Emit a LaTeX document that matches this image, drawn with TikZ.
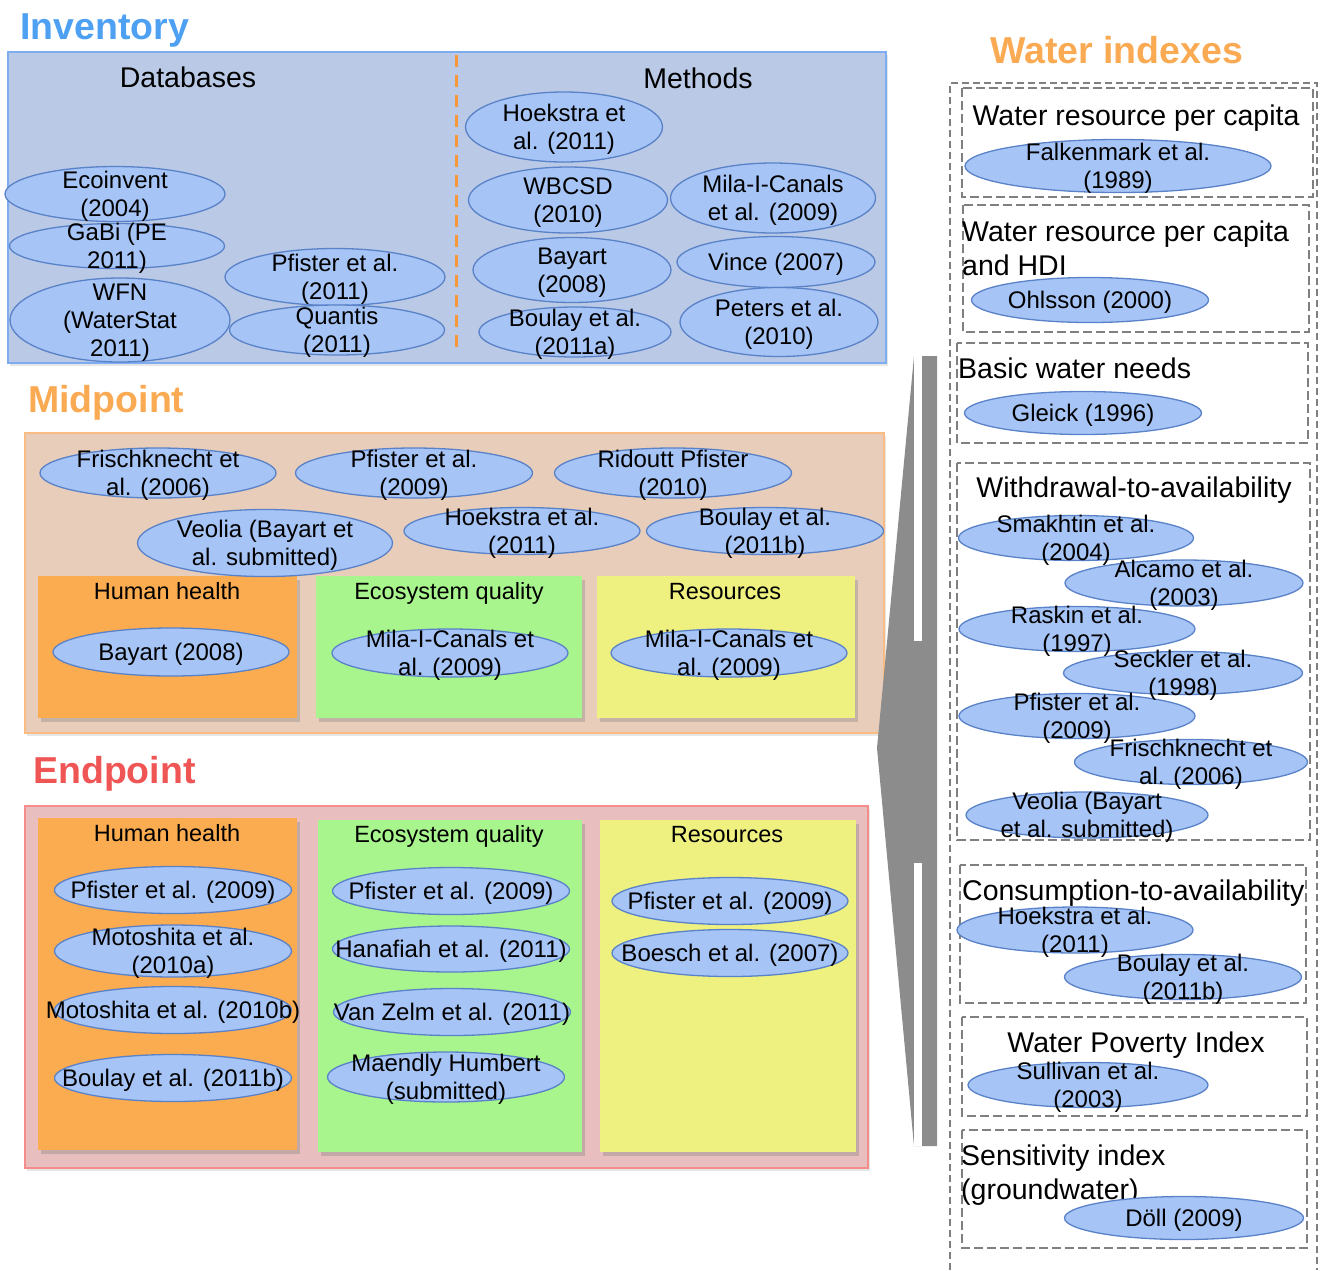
\documentclass[tikz,border=0pt]{standalone}
\usepackage{fontspec}
\setmainfont{Liberation Sans}
\usetikzlibrary{shapes.geometric,shadows}

\definecolor{invblue}{RGB}{77,160,242}
\definecolor{invfill}{RGB}{185,201,230}
\definecolor{invline}{RGB}{125,172,240}
\definecolor{midorange}{RGB}{250,170,82}
\definecolor{midfill}{RGB}{231,205,186}
\definecolor{midline}{RGB}{250,188,130}
\definecolor{endred}{RGB}{240,85,85}
\definecolor{endfill}{RGB}{232,190,190}
\definecolor{endline}{RGB}{245,140,140}
\definecolor{hhfill}{RGB}{251,171,80}
\definecolor{eqfill}{RGB}{168,245,142}
\definecolor{resfill}{RGB}{238,240,128}
\definecolor{ellfill}{RGB}{166,196,245}
\definecolor{ellline}{RGB}{90,130,200}
\definecolor{dashgray}{RGB}{128,128,128}
\definecolor{bracegray}{RGB}{140,140,140}
\definecolor{divorange}{RGB}{248,150,60}

\begin{document}
\begin{tikzpicture}[x=1pt,y=-1pt,
    oval/.style 2 args={ellipse,draw=ellline,fill=ellfill,line width=1.3pt,inner sep=0pt,
      minimum width=#1pt,minimum height=#2pt},
    reftext/.style={align=center,inner sep=0pt,yshift=-2.5pt,font=\fontsize{24}{28}\selectfont},
    bigtitle/.style={anchor=base west,inner sep=0pt,font=\bfseries\fontsize{37.5}{40}\selectfont},
    headtext/.style={anchor=base,inner sep=0pt,font=\fontsize{28.5}{34}\selectfont},
    subtitle/.style={anchor=base,inner sep=0pt,font=\fontsize{23.5}{28}\selectfont},
    indexbox/.style={draw=dashgray,line width=2pt,dash pattern=on 9pt off 4pt},
    mainshadow/.style={drop shadow={shadow xshift=2pt,shadow yshift=-3pt,opacity=0.2}},
    catshadow/.style={drop shadow={shadow xshift=3pt,shadow yshift=-4pt,opacity=0.35}}]
  \useasboundingbox (0,0) rectangle (1320,1270);

  % boxes
  \draw[fill=invfill,draw=invline,line width=1.5pt,mainshadow] (8,52) rectangle (886,363);
  \draw[divorange,line width=3pt,dash pattern=on 12pt off 8pt] (456,55) -- (456,355);
  \draw[fill=midfill,draw=midline,line width=1.5pt,mainshadow] (25,433) rectangle (884,733);
  \fill[hhfill,catshadow] (38,576) rectangle (297,718);
  \fill[eqfill,catshadow] (316,576) rectangle (582,718);
  \fill[resfill,catshadow] (597,576) rectangle (855,718);
  \draw[fill=endfill,draw=endline,line width=1.5pt,mainshadow] (25,806) rectangle (868,1168);
  \fill[hhfill,catshadow] (38,818) rectangle (297,1150);
  \fill[eqfill,catshadow] (318,820) rectangle (582,1152);
  \fill[resfill,catshadow] (600,820) rectangle (856,1152);

  % brace
  \fill[bracegray] (914,356) -- (937,356) -- (937,1146) -- (914,1146) -- (877,748) -- cycle;
  \fill[white] (914,356) rectangle (922,641);
  \fill[white] (914,863) rectangle (922,1146);

  % water index boxes
  \draw[indexbox,dash pattern=on 7pt off 4pt] (950,1270) -- (950,83) -- (1317,83) -- (1317,1270);
  \draw[indexbox] (962,88) rectangle (1313,197);
  \draw[indexbox] (963,205) rectangle (1309,332);
  \draw[indexbox] (957,343) rectangle (1308,443);
  \draw[indexbox] (957,463) rectangle (1310,840);
  \draw[indexbox] (960,865) rectangle (1306,1003);
  \draw[indexbox] (962,1017) rectangle (1307,1116);
  \draw[indexbox] (962,1130) rectangle (1307,1248);

  % titles
  \node[bigtitle,text=invblue] (inventory) at (20,39) {Inventory};
  \node[bigtitle,text=midorange] (midpoint) at (28,412) {Midpoint};
  \node[bigtitle,text=endred] (endpoint) at (33,783) {Endpoint};
  \node[bigtitle,text=midorange] (waterindexes) at (990,63) {Water indexes};
  \node[headtext] (databases) at (188,87) {Databases};
  \node[headtext] (methods) at (698,88) {Methods};
  \node[subtitle] (hhmid) at (167,599) {Human health};
  \node[subtitle] (eqmid) at (449,599) {Ecosystem quality};
  \node[subtitle] (resmid) at (725,599) {Resources};
  \node[subtitle] (hhend) at (167,841) {Human health};
  \node[subtitle] (eqend) at (449,842) {Ecosystem quality};
  \node[subtitle] (resend) at (727,842) {Resources};
  \node[headtext] (wrpc) at (1136,125) {Water resource per capita};
  \node[headtext,anchor=west,align=left] (wrpchdi) at (962,248) {Water resource per capita\\and HDI};
  \node[headtext,anchor=base west] (basic) at (958,378) {Basic water needs};
  \node[headtext] (withdrawal) at (1134,497) {Withdrawal-to-availability};
  \node[headtext,anchor=base west] (consumption) at (962,900) {Consumption-to-availability};
  \node[headtext] (wpi) at (1136,1052) {Water Poverty Index};
  \node[headtext,anchor=west,align=left] (sensitivity) at (961,1175) {Sensitivity index\\(groundwater)};

  % ellipses
  \node[oval={220}{55}] (eco) at (115,194) {};
  \node[oval={215}{45}] (gabi) at (117,246) {};
  \node[oval={220}{84}] (wfn) at (120,320) {};
  \node[oval={220}{57}] (pfi11) at (335,277) {};
  \node[oval={215}{50}] (quantis) at (337,330) {};
  \node[oval={197}{70}] (hoek) at (564,127) {};
  \node[oval={199}{66}] (wbcsd) at (568,200) {};
  \node[oval={205}{70}] (mila) at (773,198) {};
  \node[oval={198}{65}] (bay) at (572,270) {};
  \node[oval={198}{51}] (vince) at (776,262) {};
  \node[oval={192}{50}] (boul11a) at (575,332) {};
  \node[oval={198}{69}] (peters) at (779,322) {};

  \node[oval={236}{50}] (mfrisch) at (158,473) {};
  \node[oval={237}{50}] (mpfi) at (414,473) {};
  \node[oval={237}{50}] (mridoutt) at (673,473) {};
  \node[oval={255}{67}] (mveolia) at (265,543) {};
  \node[oval={236}{47}] (mhoek) at (522,531) {};
  \node[oval={237}{47}] (mboul) at (765,531) {};
  \node[oval={236}{48}] (mbay) at (171,652) {};
  \node[oval={236}{48}] (mmilaeq) at (450,653) {};
  \node[oval={236}{48}] (mmilares) at (729,653) {};

  \node[oval={237}{47}] (epfihh) at (173,890) {};
  \node[oval={237}{52}] (emoto10a) at (173,951) {};
  \node[oval={237}{47}] (emoto10b) at (173,1010) {};
  \node[oval={237}{47}] (eboulhh) at (173,1078) {};
  \node[oval={237}{47}] (epfieq) at (451,891) {};
  \node[oval={237}{46}] (ehanafiah) at (451,949) {};
  \node[oval={237}{47}] (evanzelm) at (452,1012) {};
  \node[oval={237}{50}] (emaendly) at (446,1077) {};
  \node[oval={236}{47}] (epfires) at (730,901) {};
  \node[oval={236}{47}] (eboesch) at (730,953) {};

  \node[oval={306}{53}] (falken) at (1118,166) {};
  \node[oval={237}{45}] (ohlsson) at (1090,300) {};
  \node[oval={237}{43}] (gleick) at (1083,413) {};
  \node[oval={235}{45}] (smakhtin) at (1076,538) {};
  \node[oval={238}{46}] (alcamo) at (1184,583) {};
  \node[oval={236}{45}] (raskin) at (1077,629) {};
  \node[oval={239}{43}] (seckler) at (1183,673) {};
  \node[oval={236}{45}] (wpfi) at (1077,716) {};
  \node[oval={233}{45}] (wfrisch) at (1191,762) {};
  \node[oval={242}{46}] (wveolia) at (1087,815) {};
  \node[oval={236}{46}] (choek) at (1075,930) {};
  \node[oval={237}{45}] (cboul) at (1183,977) {};
  \node[oval={240}{45}] (sullivan) at (1088,1085) {};
  \node[oval={239}{43}] (doell) at (1184,1218) {};

  % ellipse texts
  \node[reftext] (ecoT) at (eco) {Ecoinvent\\(2004)};
  \node[reftext] (gabiT) at (gabi) {GaBi (PE\\2011)};
  \node[reftext] (wfnT) at (wfn) {WFN\\(WaterStat\\2011)};
  \node[reftext] (pfi11T) at (pfi11) {Pfister et al.\\(2011)};
  \node[reftext] (quantisT) at (quantis) {Quantis\\(2011)};
  \node[reftext] (hoekT) at (hoek) {Hoekstra et\\al. (2011)};
  \node[reftext] (wbcsdT) at (wbcsd) {WBCSD\\(2010)};
  \node[reftext] (milaT) at (mila) {Mila-I-Canals\\et al. (2009)};
  \node[reftext] (bayT) at (bay) {Bayart\\(2008)};
  \node[reftext] (vinceT) at (vince) {Vince (2007)};
  \node[reftext] (boul11aT) at (boul11a) {Boulay et al.\\(2011a)};
  \node[reftext] (petersT) at (peters) {Peters et al.\\(2010)};

  \node[reftext] (mfrischT) at (mfrisch) {Frischknecht et\\al. (2006)};
  \node[reftext] (mpfiT) at (mpfi) {Pfister et al.\\(2009)};
  \node[reftext] (mridouttT) at (mridoutt) {Ridoutt Pfister\\(2010)};
  \node[reftext] (mveoliaT) at (mveolia) {Veolia (Bayart et\\al. submitted)};
  \node[reftext] (mhoekT) at (mhoek) {Hoekstra et al.\\(2011)};
  \node[reftext] (mboulT) at (mboul) {Boulay et al.\\(2011b)};
  \node[reftext] (mbayT) at (mbay) {Bayart (2008)};
  \node[reftext] (mmilaeqT) at (mmilaeq) {Mila-I-Canals et\\al. (2009)};
  \node[reftext] (mmilaresT) at (mmilares) {Mila-I-Canals et\\al. (2009)};

  \node[reftext] (epfihhT) at (epfihh) {Pfister et al. (2009)};
  \node[reftext] (emoto10aT) at (emoto10a) {Motoshita et al.\\(2010a)};
  \node[reftext] (emoto10bT) at (emoto10b) {Motoshita et al. (2010b)};
  \node[reftext] (eboulhhT) at (eboulhh) {Boulay et al. (2011b)};
  \node[reftext] (epfieqT) at (epfieq) {Pfister et al. (2009)};
  \node[reftext] (ehanafiahT) at (ehanafiah) {Hanafiah et al. (2011)};
  \node[reftext] (evanzelmT) at (evanzelm) {Van Zelm et al. (2011)};
  \node[reftext] (emaendlyT) at (emaendly) {Maendly Humbert\\(submitted)};
  \node[reftext] (epfiresT) at (epfires) {Pfister et al. (2009)};
  \node[reftext] (eboeschT) at (eboesch) {Boesch et al. (2007)};

  \node[reftext] (falkenT) at (falken) {Falkenmark et al.\\(1989)};
  \node[reftext] (ohlssonT) at (ohlsson) {Ohlsson (2000)};
  \node[reftext] (gleickT) at (gleick) {Gleick (1996)};
  \node[reftext] (smakhtinT) at (smakhtin) {Smakhtin et al.\\(2004)};
  \node[reftext] (alcamoT) at (alcamo) {Alcamo et al.\\(2003)};
  \node[reftext] (raskinT) at (raskin) {Raskin et al.\\(1997)};
  \node[reftext] (secklerT) at (seckler) {Seckler et al.\\(1998)};
  \node[reftext] (wpfiT) at (wpfi) {Pfister et al.\\(2009)};
  \node[reftext] (wfrischT) at (wfrisch) {Frischknecht et\\al. (2006)};
  \node[reftext] (wveoliaT) at (wveolia) {Veolia (Bayart\\et al. submitted)};
  \node[reftext] (choekT) at (choek) {Hoekstra et al.\\(2011)};
  \node[reftext] (cboulT) at (cboul) {Boulay et al.\\(2011b)};
  \node[reftext] (sullivanT) at (sullivan) {Sullivan et al.\\(2003)};
  \node[reftext] (doellT) at (doell) {Döll (2009)};
\end{tikzpicture}
\end{document}
